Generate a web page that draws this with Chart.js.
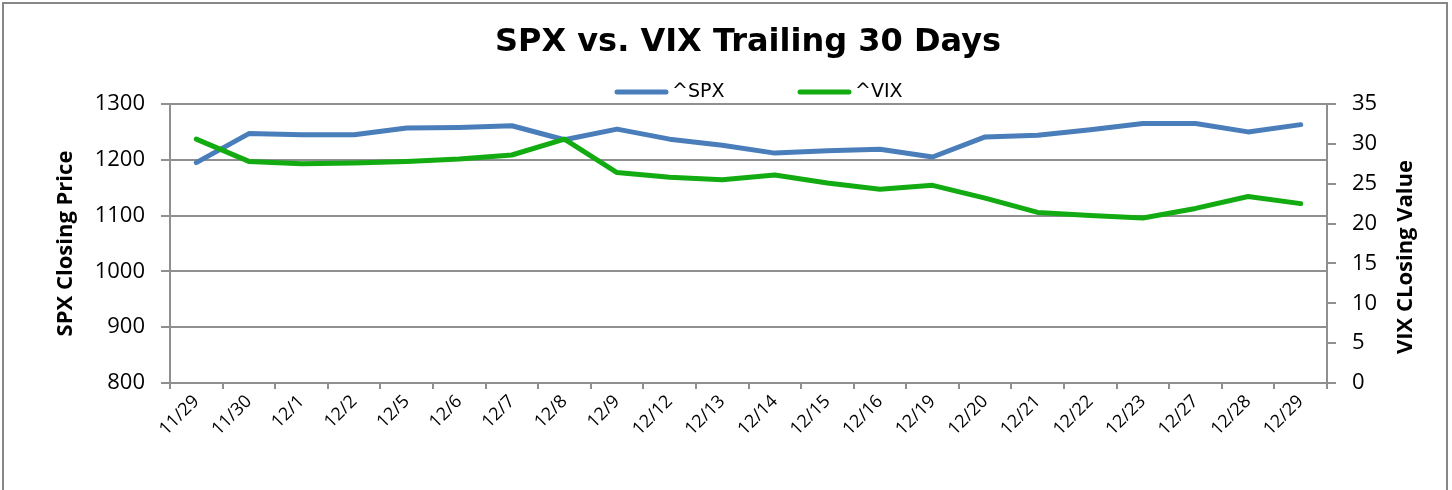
<!DOCTYPE html>
<html>
<head>
<meta charset="utf-8">
<script src="https://cdn.jsdelivr.net/npm/chart.js@4/dist/chart.umd.min.js"></script>
<style>
  body { margin: 0; background: #fff; }
  #wrap { position: relative; width: 1452px; height: 490px; overflow: hidden; }
  #frame { position: absolute; left: 2px; top: 2px; width: 1442px; height: 520px; border: 2px solid #878787; pointer-events: none; }
</style>
</head>
<body>
<div id="wrap">
  <canvas id="chart" width="1452" height="490"></canvas>
  <div id="frame"></div>
</div>
<script>
const dates = ['11/29', '11/30', '12/1', '12/2', '12/5', '12/6', '12/7', '12/8', '12/9', '12/12', '12/13',
               '12/14', '12/15', '12/16', '12/19', '12/20', '12/21', '12/22', '12/23', '12/27', '12/28', '12/29'];
const spxClose = [1195, 1247, 1245, 1245, 1257, 1258, 1261, 1236, 1255, 1237, 1226,
                  1212, 1216, 1219, 1205, 1241, 1244, 1254, 1265, 1265, 1250, 1263];
const vixClose = [30.6, 27.8, 27.5, 27.6, 27.8, 28.1, 28.6, 30.6, 26.4, 25.8, 25.5,
                  26.1, 25.1, 24.3, 24.8, 23.2, 21.4, 21.0, 20.7, 21.9, 23.4, 22.5];
const seriesNames = ['^SPX', '^VIX'];
const seriesColors = ['#4a7ebb', '#12ab12'];
const chartTitle = 'SPX vs. VIX Trailing 30 Days';

const gridGray = '#8f8f8f';
const labelFont = { family: 'Open Sans', size: 22 };

// title, legend and right axis title drawn by hand to sit where the spreadsheet put them
const headerPlugin = {
    id: 'sheetHeader',
    afterDraw(chart) {
        const ctx = chart.ctx;
        ctx.save();
        ctx.fillStyle = '#000';
        ctx.font = 'bold 32px "DejaVu Sans"';
        ctx.textAlign = 'center';
        ctx.textBaseline = 'middle';
        ctx.fillText(chartTitle, 748, 43);

        const starts = [615, 798];
        ctx.textAlign = 'left';
        chart.data.datasets.forEach((ds, i) => {
            const x = starts[i];
            ctx.strokeStyle = ds.borderColor;
            ctx.lineWidth = 5;
            ctx.lineCap = 'round';
            ctx.beginPath();
            ctx.moveTo(x + 2, 92);
            ctx.lineTo(x + 51, 92);
            ctx.stroke();
            ctx.font = '19px "DejaVu Sans"';
            ctx.fillText(ds.label, x + 57, 92);
        });

        ctx.translate(1406, 257);
        ctx.rotate(-Math.PI / 2);
        ctx.font = 'bold 22px "Open Sans"';
        ctx.textAlign = 'center';
        ctx.fillText('VIX CLosing Value', 0, 0);
        ctx.restore();
    }
};

new Chart(document.getElementById('chart'), {
    type: 'line',
    data: {
        labels: dates,
        datasets: [{
            label: seriesNames[0],
            data: spxClose,
            yAxisID: 'y',
            borderColor: seriesColors[0],
            backgroundColor: seriesColors[0],
            borderWidth: 5,
            borderCapStyle: 'round',
            borderJoinStyle: 'round',
            pointRadius: 0,
            tension: 0,
            order: 1
        }, {
            label: seriesNames[1],
            data: vixClose,
            yAxisID: 'y2',
            borderColor: seriesColors[1],
            backgroundColor: seriesColors[1],
            borderWidth: 5,
            borderCapStyle: 'round',
            borderJoinStyle: 'round',
            pointRadius: 0,
            tension: 0,
            order: 0
        }]
    },
    options: {
        responsive: false,
        animation: false,
        layout: { padding: { top: 104 } },
        plugins: {
            legend: { display: false },
            tooltip: { enabled: false },
            title: { display: false }
        },
        scales: {
            x: {
                offset: true,
                grid: { offset: true, drawOnChartArea: false, color: gridGray, lineWidth: 2, tickLength: 6 },
                border: { color: gridGray, width: 2 },
                ticks: {
                    color: '#000',
                    font: { family: 'Open Sans', size: 18 },
                    minRotation: 45,
                    maxRotation: 45,
                    autoSkip: false,
                    padding: 2
                },
                afterFit(scale) { scale.height = 107; }
            },
            y: {
                position: 'left',
                min: 800,
                max: 1300,
                ticks: { stepSize: 100, color: '#000', font: labelFont, padding: 16, callback: v => String(v) },
                grid: { color: gridGray, lineWidth: 2, tickLength: 9 },
                border: { color: gridGray, width: 2 },
                title: {
                    display: true,
                    text: 'SPX Closing Price',
                    color: '#000',
                    font: { family: 'Open Sans', size: 22, weight: 'bold' },
                    padding: { top: 53, bottom: 0 }
                },
                afterFit(scale) { scale.width = 170; }
            },
            y2: {
                position: 'right',
                min: 0,
                max: 35,
                ticks: { stepSize: 5, color: '#000', font: labelFont, padding: 16 },
                grid: { drawOnChartArea: false, color: gridGray, lineWidth: 2, tickLength: 9 },
                border: { color: gridGray, width: 2 },
                afterFit(scale) { scale.width = 125; }
            }
        }
    },
    plugins: [headerPlugin]
});
</script>
</body>
</html>
